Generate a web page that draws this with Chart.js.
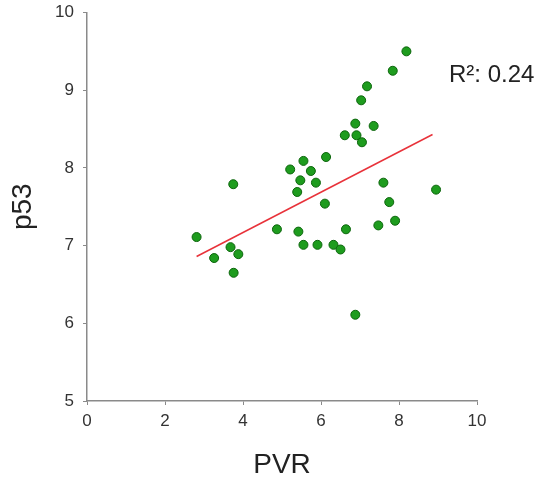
<!DOCTYPE html>
<html>
<head>
<meta charset="utf-8">
<script src="https://cdn.jsdelivr.net/npm/chart.js@4.4.0/dist/chart.umd.min.js"></script>
<style>
    html, body { margin: 0; padding: 0; background: #fff; }
    #wrap { width: 540px; height: 482px; position: relative; }
</style>
</head>
<body>
<div id="wrap"><canvas id="myChart"></canvas></div>
<script>
// PVR (x) and p53 (y)
var pvr = [8.19, 7.84, 7.18, 7.03, 6.88, 7.35, 6.61, 6.91, 7.05, 6.13,
           5.55, 5.21, 5.74, 5.47, 5.87, 3.75, 7.60, 5.39, 8.95, 6.10,
           7.75, 7.90, 7.47, 2.81, 4.87, 5.42, 6.64, 5.55, 5.91, 6.32,
           6.50, 3.68, 3.88, 3.26, 3.76, 6.88];
var p53 = [9.50, 9.25, 9.05, 8.87, 8.57, 8.54, 8.42, 8.42, 8.33, 8.14,
           8.09, 7.98, 7.96, 7.84, 7.81, 7.79, 7.81, 7.69, 7.72, 7.54,
           7.56, 7.32, 7.26, 7.11, 7.21, 7.18, 7.21, 7.01, 7.01, 7.01,
           6.95, 6.98, 6.89, 6.84, 6.65, 6.11];

// fitted line end points
var fitX = [2.81, 8.86];
var fitY = [6.86, 8.43];

var xTicks = [0, 2, 4, 6, 8, 10];
var yTicks = [5, 6, 7, 8, 9, 10];
var r2Label = 'R\u00b2: 0.24';

var points = pvr.map(function (v, i) { return {x: v, y: p53[i]}; });
var fitLine = fitX.map(function (v, i) { return {x: v, y: fitY[i]}; });

var font = "'Liberation Sans', Arial, sans-serif";

// draws the R² note next to the plot
var r2Plugin = {
    id: 'r2note',
    afterDraw: function (chart) {
        var ctx = chart.ctx;
        ctx.save();
        ctx.font = '24px ' + font;
        ctx.fillStyle = '#222';
        ctx.textBaseline = 'middle';
        ctx.fillText(r2Label, 449, 75);
        ctx.restore();
    }
};

var ctx = document.getElementById('myChart').getContext('2d');
new Chart(ctx, {
    type: 'scatter',
    data: {
        datasets: [
            {
                label: 'fit',
                type: 'line',
                data: fitLine,
                borderColor: '#e8323a',
                borderWidth: 1.5,
                pointRadius: 0,
                fill: false,
                order: 2
            },
            {
                label: 'p53',
                data: points,
                backgroundColor: '#1e9c1e',
                borderColor: '#0c650c',
                borderWidth: 1,
                pointRadius: 4.5,
                order: 1
            }
        ]
    },
    options: {
        responsive: true,
        maintainAspectRatio: false,
        animation: false,
        layout: { padding: { top: 12.5, right: 63, left: 0, bottom: 0 } },
        plugins: {
            legend: { display: false },
            tooltip: { enabled: false }
        },
        scales: {
            x: {
                type: 'linear',
                min: 0,
                max: 10,
                afterBuildTicks: function (scale) {
                    scale.ticks = xTicks.map(function (v) { return {value: v}; });
                },
                afterFit: function (scale) { scale.height = 81; },
                grid: { drawOnChartArea: false, drawTicks: true, tickLength: 4, color: '#8a8a8a' },
                border: { color: '#8a8a8a', width: 1.5 },
                ticks: { color: '#333', padding: 6, font: { family: font, size: 17 } },
                title: {
                    display: true,
                    text: 'PVR',
                    color: '#222',
                    font: { family: font, size: 28 },
                    padding: { top: 14, bottom: 0 }
                }
            },
            y: {
                type: 'linear',
                min: 5,
                max: 10,
                afterBuildTicks: function (scale) {
                    scale.ticks = yTicks.map(function (v) { return {value: v}; });
                },
                afterFit: function (scale) {
                    scale.width = 87;
                    scale.paddingTop = 0;
                    scale.paddingBottom = 0;
                },
                grid: { drawOnChartArea: false, drawTicks: true, tickLength: 4, color: '#8a8a8a' },
                border: { color: '#8a8a8a', width: 1.5 },
                ticks: { color: '#333', padding: 9, font: { family: font, size: 17 } },
                title: {
                    display: true,
                    text: 'p53',
                    color: '#222',
                    font: { family: font, size: 28 },
                    padding: { top: 6, bottom: 0 }
                }
            }
        }
    },
    plugins: [r2Plugin]
});
</script>
</body>
</html>
